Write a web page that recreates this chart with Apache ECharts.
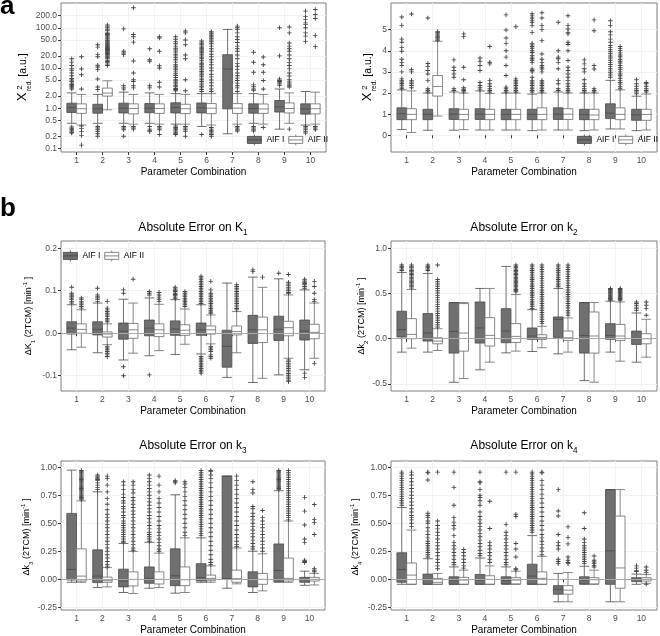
<!DOCTYPE html>
<html><head><meta charset="utf-8">
<script src="https://cdn.jsdelivr.net/npm/echarts@6/dist/echarts.min.js"></script>
<style>html,body{margin:0;padding:0;background:#fff}#c{width:660px;height:636px}</style>
</head><body><div id="c"></div>
<script>
const categories = [1,2,3,4,5,6,7,8,9,10];
const seriesNames = ['AIF I', 'AIF II'];

// tick labels
const chiLogTicks = [0.1,0.2,0.5,1,2,5,10,20,50,100,200];
const chiLinTicks = [0,1,2,3,4,5];
const k1Ticks = [-0.1,0,0.1,0.2];
const k2Ticks = [-0.5,0,0.5,1];
const k34Ticks = [-0.25,0,0.25,0.5,0.75,1];

// ---- a (left): reduced chi-square, log scale  [low whisker, Q1, median, Q3, high whisker]
const chiLogBoxI = [[0.42,0.78,1.03,1.33,2.4],[0.42,0.75,0.97,1.25,2.2],[0.42,0.76,1.0,1.33,2.5],[0.42,0.77,1.0,1.3,2.4],[0.4,0.76,1.03,1.36,2.3],[0.35,0.76,1.02,1.35,2.3],[0.23,0.96,9.4,21.5,91],[0.42,0.75,0.98,1.28,2.3],[0.3,0.8,1.08,1.55,3.0],[0.38,0.71,0.95,1.28,2.6]];
const chiLogBoxII = [[0.38,0.74,0.97,1.28,2.2],[0.91,2.0,2.37,3.16,4.8],[0.4,0.72,0.98,1.28,2.2],[0.4,0.74,0.98,1.28,2.2],[0.4,0.73,0.97,1.25,2.2],[0.38,0.73,1.0,1.3,2.3],[0.4,0.74,1.0,1.3,2.3],[0.4,0.74,0.96,1.27,2.2],[0.42,0.76,0.98,1.35,2.4],[0.4,0.72,0.97,1.28,2.5]];
const chiLogOutI = [
 [17,14,11.5,9.6,8.6,7.5,6.4,5.5,5.0,4.6,4.2,3.9,3.6,3.4,3.2,3.0,0.34,0.31,0.29,0.27,0.25,0.24],
 [38,33,21.5,19,11.7,10.6,9.1,5.3,3.35,2.9,0.35,0.32,0.29,0.26,0.23,0.2],
 [94,26,23.7,21.5,3.6,3.2,2.98,0.35,0.32,0.29,0.2],
 [30,16,14.7,3.6,3.2,0.35,0.3,0.28,0.26],
 [60,52,45,40,35,31,28,25,22,20,18,16,14,12,11,10,9,8,7.2,6.5,5.8,5.2,4.8,4.4,4.0,3.7,3.4,3.1,2.9,2.7,0.36,0.33,0.31,0.29,0.27,0.25,0.23,0.22],
 [47,44,41,38,35,32,30,28,26,24,22,20,18.5,17,15.5,14,13,12,11,10,9,8.2,7.5,6.8,6.2,5.6,5.1,4.6,4.2,3.8,3.5,3.2,2.9,2.6,0.22],
 [],
 [24.6,13.9,7.8,3.8,3.4,3.0,2.8,0.35,0.32,0.29,0.27],
 [100,20,5.3,4.9,4.6,4.3,4.0,3.7],
 [260,190,160,133,120,100,75,62,46,0.35,0.32,0.29,0.26,0.24]];
const chiLogOutII = [
 [19,9.4,6.8,3.0,0.36,0.31,0.26,0.21,0.12],
 [118,110,100,92,85,78,72,68,64,60,56,53,50,48,46,44,42,40,38,36,35,34,33,32,31,30,29,28,27,26,25,24,23,22,21,20,19,18,17,15.5,14.5,13.5,12.5,11.5],
 [316,68,60,44,15,7.5,5.1,4.6,3.6,3.2,0.35,0.32,0.3],
 [60,56,26,11.4,10,4.4,3.35,0.35,0.32,0.29,0.22],
 [83,75,50,38,21,17,5.1,2.7,0.35,0.32,0.29,0.26,0.2],
 [80,75,70,65,60,55,50,45,40,35,30,26,22,19,16,14,12,10,8.5,7,6,5,4.3,3.6,3.0,2.6,0.33,0.3,0.28,0.26,0.24,0.22,0.2],
 [110,100,90,75,60,51,43,35,30,26,21,17,13,11,9.1,7.5,6.4,5.6,4.9,4.2,3.6,3.2,2.6,0.35,0.32,0.29,0.27],
 [18.8,12,7.8,4.9,3.0,0.33],
 [105,75,42,35,30,26,21,17,13.8,11.5,9.5,7.5,6.3,5.1,4.5,4.0,3.6,3.35,0.3],
 [285,215,170,64,34,0.35,0.32,0.29]];

// ---- a (right): reduced chi-square, linear scale
const chiLinBoxI = [[0.27,0.74,1.02,1.3,2.15],[0.24,0.74,0.99,1.23,2.0],[0.24,0.75,1.0,1.26,2.05],[0.25,0.75,1.0,1.26,2.1],[0.25,0.74,0.99,1.23,2.0],[0.22,0.74,0.99,1.23,1.95],[0.25,0.75,1.0,1.3,2.05],[0.22,0.74,0.99,1.23,2.0],[0.3,0.79,1.05,1.49,2.6],[0.22,0.71,0.97,1.23,1.85]];
const chiLinBoxII = [[0.13,0.74,0.99,1.26,2.1],[0.91,1.855,2.31,2.83,4.45],[0.27,0.74,0.99,1.23,2.0],[0.25,0.74,0.99,1.23,1.98],[0.25,0.74,0.99,1.23,2.0],[0.25,0.74,0.99,1.3,2.0],[0.25,0.75,1.0,1.26,2.0],[0.25,0.74,0.96,1.23,2.0],[0.3,0.74,0.99,1.3,2.15],[0.25,0.71,0.99,1.23,1.95]];
const chiLinOutI = [
 [5.6,5.2,4.55,4.4,4.15,3.98,3.6,3.45,3.3,3.0,2.67,2.6,2.52,2.45,2.37,2.28,2.2],
 [5.55,3.4,3.25,3.07,2.9,2.6,2.2,2.12,2.05],
 [3.57,3.22,3.07,2.9,2.75,2.2,2.12],
 [3.66,3.5,3.3,3.07,2.5,2.36,2.25,2.15],
 [5.7,4.98,4.6,4.35,4.0,3.7,3.3,2.83,2.28,2.2,2.12,2.05],
 [5.75,5.65,5.55,5.45,5.35,5.2,4.87,4.35,4.28,4.2,4.12,4.0,3.92,3.77,3.7,3.62,3.55,3.45,3.14,3.07,3.0,2.75,2.6,2.52,2.44,2.36,2.28,2.2,2.12,2.05],
 [5.35,4.0,3.7,3.62,3.45,3.15,2.6,2.44,2.2,2.12],
 [3.57,3.38,3.15,3.0,2.63,2.44,2.32,2.2,2.12,2.05],
 [5.42,5.2,4.9,4.75,4.55,4.4,4.25,4.15,4.05,3.95,3.86,3.75,3.66,3.55,3.44,3.35,3.26,3.15,3.05,2.96,2.85,2.75],
 [2.63,2.44,2.32,2.2,2.12,2.05,1.97]];
const chiLinOutII = [
 [5.74,3.1,3.0,2.6,2.52,2.44,2.36,2.25],
 [4.9,4.85,4.8,4.75,4.7,4.65,4.6,4.55,4.5],
 [4.8,4.67,3.22,2.63,2.25,2.18,2.12,2.05],
 [4.2,3.46,3.38,2.6,2.44,2.32,2.2,2.12,2.05],
 [5.14,2.67,2.6,2.52,2.44,2.36,2.28,2.2,2.12,2.05],
 [5.8,5.55,5.2,5.0,4.48,3.85,3.6,3.45,3.3,3.22,3.14,3.0,2.6,2.52,2.44,2.36,2.28,2.2,2.12,2.05],
 [5.66,5.2,5.03,4.87,4.8,4.4,4.3,4.0,3.54,3.22,3.07,2.9,2.75,2.6,2.44,2.32,2.2,2.12,2.05],
 [5.46,4.95,3.3,3.14,2.2,2.12,2.05],
 [4.2,4.1,4.02,3.9,3.8,3.72,3.6,3.5,3.42,3.3,3.2,3.12,3.0,2.9,2.82,2.7,2.6,2.5,2.42,2.3,2.2],
 [2.5,2.44,2.32,2.2,2.12,2.05]];

// ---- b: absolute error on K1
const k1BoxI = [[-0.039,-0.002,0.012,0.027,0.067],[-0.046,-0.004,0.009,0.027,0.071],[-0.063,-0.014,0.005,0.024,0.080],[-0.053,-0.006,0.012,0.031,0.083],[-0.050,-0.005,0.010,0.029,0.079],[-0.049,-0.005,0.008,0.024,0.067],[-0.104,-0.080,-0.031,0.007,0.118],[-0.116,-0.024,0.008,0.042,0.132],[-0.098,-0.017,0.009,0.040,0.128],[-0.086,-0.016,0.005,0.031,0.102]];
const k1BoxII = [[-0.033,0.000,0.009,0.022,0.055],[-0.027,-0.009,-0.002,0.003,0.022],[-0.047,-0.012,0.008,0.023,0.071],[-0.041,-0.008,0.008,0.022,0.068],[-0.026,-0.005,0.007,0.020,0.057],[-0.025,-0.002,0.008,0.017,0.043],[-0.046,-0.004,0.004,0.017,0.051],[-0.106,-0.022,0.008,0.038,0.108],[-0.059,-0.006,0.013,0.028,0.090],[-0.059,-0.013,0.002,0.021,0.071]];
const k1OutI = [
 [0.108,0.094,0.090,0.087,0.083,0.079,0.075,0.071],
 [0.106,0.090,0.086,0.083,0.079,0.075],
 [0.102,0.094,-0.079,-0.100],
 [0.098,0.094,0.090,-0.098],
 [0.108,0.104,0.101,0.098,0.094,0.091,0.088,0.085,0.082],
 [0.134,0.130,0.126,0.122,0.118,0.114,0.110,0.106,0.102,0.098,0.094,0.090,0.086,0.082,0.078,0.074,0.070,-0.055,-0.059,-0.063,-0.067,-0.071,-0.075,-0.079,-0.083,-0.087,-0.091,-0.094],
 [],
 [0.149,0.145],
 [0.141],
 [0.127,0.123,0.120,0.117,0.114,0.110,0.106,-0.094,-0.104]];
const k1OutII = [
 [0.083,0.079,0.075,0.071,0.067,0.063,0.059],
 [0.075,0.059,0.055,0.051,0.047,0.043,0.039,0.035,0.031,0.027,-0.031,-0.035,-0.039,-0.043,-0.047,-0.051,-0.055],
 [0.127],
 [0.096,0.090,0.085,0.080,0.075],
 [0.098,0.094,0.090,0.086,0.082,0.078,0.075,0.071,0.067,0.063],
 [0.122,0.102,0.094,0.090,0.086,0.082,0.078,0.074,0.070,0.066,0.062,0.058,0.054,0.050,0.047,-0.031,-0.035,-0.039,-0.043,-0.051,-0.055,-0.059],
 [0.114,0.110,0.106,0.102,0.098,0.094,0.090,0.086,0.082,0.078,0.074,0.070,0.066,0.062,0.058,0.055],
 [0.132],
 [0.138,0.120,0.116,0.112,0.108,0.104,0.100,0.096,0.094,-0.063,-0.067,-0.071,-0.075,-0.079,-0.083,-0.087,-0.091,-0.095,-0.099,-0.103,-0.107,-0.111,-0.114],
 [0.122,0.110,0.094,0.079,0.075,-0.071]];

// ---- b: absolute error on k2
const k2BoxI = [[-0.148,0.019,0.100,0.304,0.733],[-0.148,-0.026,0.063,0.278,0.722],[-0.482,-0.159,0.081,0.400,0.400],[-0.344,-0.048,0.119,0.407,0.556],[-0.156,-0.044,0.085,0.333,0.800],[-0.141,-0.007,0.030,0.119,0.322],[-0.167,0.015,0.215,0.241,0.556],[-0.463,-0.159,0.037,0.400,0.400],[-0.148,-0.007,0.037,0.167,0.415],[-0.259,-0.063,0.000,0.085,0.285]];
const k2BoxII = [[-0.104,0.000,0.048,0.222,0.544],[-0.130,-0.056,-0.026,0.011,0.111],[-0.440,-0.137,0.063,0.389,0.400],[-0.259,-0.081,0.037,0.233,0.556],[-0.137,-0.041,0.026,0.167,0.489],[-0.100,-0.007,0.015,0.044,0.137],[-0.148,-0.019,0.011,0.085,0.230],[-0.481,-0.159,0.030,0.296,0.400],[-0.248,-0.019,0.030,0.159,0.407],[-0.204,-0.056,0.000,0.056,0.215]];
const k2OutI = [
 [0.815,0.800,0.785,0.770,0.755],
 [0.815,0.800,0.785,0.770,0.755],
 [],[],[],
 [0.815,0.795,0.775,0.755,0.735,0.715,0.695,0.675,0.655,0.635,0.615,0.595,0.575,0.555,0.535,0.515,0.495,0.475,0.455,0.435,0.415,0.395,0.375,0.355,0.335],
 [0.815,0.795,0.775,0.755,0.735,0.715,0.695,0.675,0.655,0.635,0.615,0.595,0.575],
 [],
 [0.556,0.545,0.535,0.525,0.515,0.505,0.495,0.485,0.475,0.465,0.455,0.445,0.435,0.426],
 [0.407,0.390,0.370,0.350,0.333,0.315]];
const k2OutII = [
 [0.815,0.800,0.785,0.770,0.755,0.740,0.725,0.710,0.695,0.680,0.665,0.650,0.635,0.620,0.605,0.590,0.575,0.560],
 [0.815,0.656,0.630,0.605,0.580,0.555,0.530,0.505,0.480,0.455,0.430,0.405,0.380,0.355,0.330,0.305,0.280,0.255,0.230,0.205,0.180,0.155,0.130],
 [],[],
 [0.815,0.800,0.785,0.770,0.755,0.740,0.725,0.710,0.695,0.680,0.665,0.650,0.635,0.620,0.605,0.590,0.575,0.560,0.545,0.530,0.520],
 [0.815,0.790,0.765,0.740,0.715,0.690,0.665,0.640,0.615,0.590,0.565,0.540,0.515,0.490,0.465,0.440,0.415,0.390,0.365,0.340,0.315,0.290,0.265,0.240,0.215,0.190,0.167],
 [0.815,0.790,0.765,0.740,0.715,0.690,0.665,0.640,0.615,0.590,0.565,0.540,0.515,0.490,0.465,0.440,0.415,0.390,0.365,0.340,0.310,0.285,0.260],
 [],
 [0.556,0.545,0.535,0.525,0.515,0.505,0.495,0.485,0.475,0.465,0.455,0.445,0.435,0.426],
 [0.407,0.370,0.333,0.260]];

// ---- b: absolute error on k3
const k3BoxI = [[-0.026,-0.006,0.088,0.588,0.974],[-0.073,-0.029,0.029,0.263,0.780],[-0.117,-0.067,-0.015,0.091,0.320],[-0.079,-0.035,0.009,0.111,0.330],[-0.123,-0.056,0.032,0.272,0.754],[-0.026,-0.015,0.015,0.140,0.370],[-0.079,0.003,0.005,0.921,0.921],[-0.117,-0.067,0.000,0.067,0.251],[-0.026,-0.020,0.079,0.316,0.790],[-0.053,-0.026,-0.003,0.018,0.073]];
const k3BoxII = [[-0.026,-0.015,0.029,0.272,0.700],[-0.067,-0.026,-0.012,0.020,0.105],[-0.126,-0.058,0.000,0.067,0.249],[-0.073,-0.041,0.000,0.067,0.234],[-0.117,-0.056,-0.003,0.111,0.370],[-0.026,-0.012,0.009,0.038,0.120],[-0.040,-0.026,0.006,0.082,0.280],[-0.102,-0.044,0.000,0.053,0.228],[-0.026,-0.015,0.009,0.190,0.520],[-0.050,-0.015,0.000,0.018,0.053]];
const k3OutI = [
 [],
 [0.93,0.92,0.91,0.90,0.89,0.88,0.86,0.84,0.82,0.80],
 [0.87,0.84,0.80,0.76,0.73,0.70,0.68,0.65,0.63,0.60,0.57,0.55,0.52,0.50,0.48,0.46,0.44,0.42,0.40,0.38,0.36,0.34,0.33],
 [0.93,0.90,0.87,0.84,0.81,0.78,0.75,0.72,0.69,0.66,0.63,0.60,0.57,0.54,0.51,0.48,0.45,0.42,0.40,0.38,0.36,0.34],
 [0.88,0.87,0.86],
 [0.97,0.95,0.93,0.91,0.89,0.87,0.85,0.83,0.81,0.79,0.77,0.75,0.73,0.71,0.69,0.67,0.65,0.63,0.61,0.59,0.57,0.55,0.53,0.51,0.49,0.47,0.45,0.43,0.41,0.39],
 [],
 [0.87,0.80,0.77,0.65,0.63,0.59,0.56,0.53,0.50,0.47,0.44,0.41,0.38,0.35,0.32,0.29,0.27],
 [0.97,0.96,0.95,0.94,0.93,0.92,0.91,0.90,0.89,0.88,0.87,0.86,0.85,0.84,0.83,0.82,0.81,0.80],
 [0.731,0.608,0.485,0.36,0.33,0.17,0.16,0.15]];
const k3OutII = [
 [0.97,0.96,0.95,0.94,0.93,0.92,0.91,0.90,0.89,0.88,0.87,0.86,0.85,0.84,0.83,0.82,0.81,0.80,0.79,0.78,0.77,0.76,0.75,0.74,0.73,0.72,0.71],
 [0.92,0.90,0.84,0.78,0.72,0.67,0.62,0.58,0.55,0.52,0.49,0.46,0.43,0.40,0.37,0.34,0.31,0.28,0.25,0.22,0.19,0.16,0.13,0.11],
 [0.87,0.84,0.80,0.77,0.73,0.70,0.67,0.64,0.61,0.58,0.55,0.52,0.49,0.46,0.43,0.40,0.37,0.34,0.31,0.28,0.26],
 [0.92,0.84,0.78,0.72,0.68,0.64,0.60,0.56,0.52,0.48,0.45,0.42,0.39,0.36,0.33,0.30,0.27,0.25],
 [0.87,0.85,0.82,0.78,0.74,0.70,0.66,0.62,0.58,0.54,0.50,0.46,0.42,0.39],
 [0.97,0.96,0.93,0.90,0.86,0.82,0.78,0.74,0.70,0.66,0.62,0.58,0.54,0.50,0.46,0.42,0.38,0.34,0.30,0.26,0.22,0.18,0.15,0.13],
 [0.92,0.88,0.84,0.80,0.76,0.72,0.68,0.64,0.60,0.56,0.52,0.48,0.44,0.40,0.37,0.34,0.31,0.29],
 [0.614,0.55,0.52,0.49,0.46,0.43,0.40,0.37,0.34,0.31,0.28,0.25],
 [0.97,0.95,0.93,0.91,0.89,0.87,0.85,0.83,0.81,0.79,0.77,0.75,0.73,0.71,0.69,0.67,0.65,0.63,0.61,0.59,0.57,0.55,0.53],
 [0.667,0.535,0.506,0.40,0.096,0.082,0.068]];

// ---- b: absolute error on k4
const k4BoxI = [[-0.044,-0.026,0.088,0.237,0.640],[-0.044,-0.044,0.000,0.047,0.184],[-0.044,-0.044,-0.012,0.023,0.111],[-0.044,-0.044,-0.006,0.044,0.190],[-0.044,-0.041,-0.012,0.023,0.111],[-0.044,-0.044,0.029,0.135,0.390],[-0.200,-0.132,-0.088,-0.056,0.053],[-0.044,-0.041,-0.006,0.023,0.117],[-0.200,-0.044,0.254,0.800,0.800],[-0.044,-0.020,0.000,0.015,0.047]];
const k4BoxII = [[-0.044,-0.044,0.038,0.146,0.440],[-0.044,-0.044,-0.026,0.009,0.053],[-0.044,-0.044,-0.006,0.018,0.082],[-0.044,-0.044,0.000,0.032,0.120],[-0.044,-0.041,-0.006,0.015,0.073],[-0.044,-0.044,0.009,0.067,0.205],[-0.200,-0.132,-0.096,-0.056,0.061],[-0.044,-0.041,-0.003,0.015,0.082],[-0.200,-0.079,0.102,0.564,0.800],[-0.035,-0.015,0.000,0.015,0.044]];
const k4OutI = [
 [0.956,0.94,0.92,0.90,0.88,0.86,0.84,0.82,0.80,0.78,0.76,0.74,0.72,0.70,0.68,0.66],
 [0.956,0.95,0.886,0.59,0.57,0.55,0.52,0.50,0.46,0.43,0.40,0.37,0.34,0.32,0.30,0.28,0.26,0.24,0.22,0.20],
 [0.956,0.82,0.66,0.55,0.51,0.48,0.45,0.39,0.33,0.30,0.27,0.24,0.21,0.18,0.15,0.13],
 [0.956,0.87,0.86,0.80,0.75,0.73,0.70,0.66,0.60,0.56,0.53,0.50,0.47,0.44,0.41,0.38,0.35,0.32,0.29,0.26,0.23,0.21],
 [0.956,0.49,0.42,0.39,0.36,0.33,0.30,0.27,0.24,0.21,0.18,0.15,0.13],
 [0.956,0.94,0.92,0.90,0.88,0.86,0.84,0.82,0.80,0.78,0.76,0.74,0.72,0.70,0.68,0.66,0.64,0.62,0.60,0.58,0.56,0.54,0.52,0.50,0.48,0.46,0.44,0.42],
 [0.80,0.61,0.565,0.40,0.33,0.30,0.27,0.18,0.16,0.14],
 [0.594,0.453,0.36,0.33,0.30,0.28,0.26,0.24,0.22,0.20,0.18,0.16,0.14],
 [],
 [0.12,0.10,0.08,0.07]];
const k4OutII = [
 [0.956,0.93,0.90,0.87,0.84,0.81,0.78,0.75,0.72,0.69,0.66,0.63,0.60,0.57,0.55,0.53,0.50,0.47],
 [0.956,0.52,0.48,0.45,0.42,0.39,0.36,0.33,0.30,0.27,0.24,0.21,0.18,0.15,0.12,0.095],
 [0.266,0.24,0.21,0.18,0.15,0.12,0.10],
 [0.696,0.453,0.33,0.30,0.27,0.24,0.21,0.18,0.15],
 [0.956,0.58,0.56,0.32,0.27,0.20,0.096,0.085],
 [0.956,0.95,0.88,0.84,0.80,0.76,0.72,0.68,0.64,0.60,0.56,0.52,0.48,0.44,0.40,0.37,0.34,0.31,0.28,0.25,0.22],
 [0.468,0.374,0.316,0.20,0.17,0.15,0.14],
 [0.208,0.17,0.155,0.14,0.125,0.11],
 [],
 [0.11,0.082,0.06,-0.044]];

// ------------------------------------------------------------------
const FONT = '"Liberation Sans", Arial, sans-serif';
const PLUS = 'path://M-0.5,-2.5H0.5V-0.5H2.5V0.5H0.5V2.5H-0.5V0.5H-2.5V-0.5H-0.5Z';
const KEY = 'path://M0,2H14V9H0Z M0,5.5H14 M7,0V2 M7,9V11';
const DODGE = 0.1875;   // half of the dodge width (ggplot position_dodge 0.75)
const BOXW = 9.7;
const FILL = ['#707070', '#ffffff'];
const STROKE = ['#4a4a4a', '#6a6a6a'];

const panels = [
  {box:[chiLogBoxI, chiLogBoxII], out:[chiLogOutI, chiLogOutII], grid:{left:61, top:3, width:265, height:149}, yType:'log', yMin:0.081, yMax:415, ticks:chiLogTicks, dec:1, zero:false},
  {box:[chiLinBoxI, chiLinBoxII], out:[chiLinOutI, chiLinOutII], grid:{left:391, top:3, width:266, height:149}, yType:'value', yMin:-0.79, yMax:6.26, ticks:chiLinTicks, dec:0, zero:false},
  {box:[k1BoxI, k1BoxII], out:[k1OutI, k1OutII], grid:{left:61, top:241, width:264, height:150}, yType:'value', yMin:-0.136, yMax:0.217, ticks:k1Ticks, dec:1, zero:true},
  {box:[k2BoxI, k2BoxII], out:[k2OutI, k2OutII], grid:{left:391, top:241, width:266, height:150}, yType:'value', yMin:-0.578, yMax:1.081, ticks:k2Ticks, dec:1, zero:true},
  {box:[k3BoxI, k3BoxII], out:[k3OutI, k3OutII], grid:{left:61, top:461, width:264, height:152}, yType:'value', yMin:-0.273, yMax:1.055, ticks:k34Ticks, dec:2, zero:true},
  {box:[k4BoxI, k4BoxII], out:[k4OutI, k4OutII], grid:{left:391, top:461, width:266, height:152}, yType:'value', yMin:-0.273, yMax:1.055, ticks:k34Ticks, dec:2, zero:true}
];

const grid = [], xAxis = [], yAxis = [], series = [];
panels.forEach((p, i) => {
  grid.push(Object.assign({show:true, borderColor:'#7f7f7f', borderWidth:1, backgroundColor:'#fff'}, p.grid));
  xAxis.push({
    gridIndex:i, type:'value', min:0.4, max:10.6,
    axisLine:{show:false},
    axisTick:{show:true, length:3, customValues:categories, lineStyle:{color:'#333'}},
    axisLabel:{customValues:categories, fontSize:8.5, color:'#4d4d4d', margin:4, fontFamily:FONT},
    splitLine:{show:true, lineStyle:{color:'#f2f2f2', width:1}},
    name:'Parameter Combination', nameLocation:'middle', nameGap:15,
    nameTextStyle:{fontSize:10, color:'#000', fontFamily:FONT}
  });
  xAxis.push({gridIndex:i, type:'value', min:0.4, max:10.6, show:false});
  yAxis.push({
    gridIndex:i, type:p.yType, min:p.yMin, max:p.yMax,
    axisLine:{show:false},
    axisTick:{show:true, length:3, customValues:p.ticks, lineStyle:{color:'#333'}},
    axisLabel:{customValues:p.ticks, fontSize:8.5, color:'#4d4d4d', margin:4, fontFamily:FONT,
      formatter:(v) => Number(v).toFixed(p.dec)},
    splitLine:{show:true, lineStyle:{color:'#f2f2f2', width:1}}
  });
  if (p.zero) {
    series.push({type:'scatter', name:'zero', xAxisIndex:2*i, yAxisIndex:i, data:[], silent:true, z:1,
      markLine:{silent:true, symbol:'none', animation:false, label:{show:false},
        lineStyle:{color:'#a8a8a8', width:1.2, type:'solid'}, data:[{yAxis:0}]}});
  }
  [0,1].forEach(s => {
    const off = s === 0 ? -DODGE : DODGE;
    series.push({
      type:'boxplot', name:seriesNames[s], xAxisIndex:2*i + s, yAxisIndex:i,
      boxWidth:[BOXW, BOXW], silent:true, z:3,
      itemStyle:{color:FILL[s], borderColor:STROKE[s], borderWidth:0.8},
      data:p.box[s].map((b, k) => [categories[k] + off].concat(b))
    });
  });
  [0,1].forEach(s => {
    const off = s === 0 ? -DODGE : DODGE;
    series.push({
      type:'scatter', name:seriesNames[s], xAxisIndex:2*i, yAxisIndex:i,
      symbol:PLUS, symbolSize:4.6, silent:true, z:4,
      itemStyle:{color:'#474747', opacity:1},
      data:p.out[s].flatMap((vals, k) => vals.map(v => [categories[k] + off, v]))
    });
  });
});

function legendAt(left, top) {
  return {
    left:left, top:top, width:120, padding:0, itemWidth:14, itemHeight:11, itemGap:4,
    selectedMode:false, orient:'horizontal',
    textStyle:{fontSize:8.5, color:'#000', fontFamily:FONT},
    data:[
      {name:'AIF I', icon:KEY, itemStyle:{color:FILL[0], borderColor:'#3d3d3d', borderWidth:0.8}},
      {name:'AIF II', icon:KEY, itemStyle:{color:FILL[1], borderColor:'#6a6a6a', borderWidth:0.8}}
    ]
  };
}

const t = (txt, x, y, size, extra) => Object.assign({type:'text', x:x, y:y, silent:true,
  style:{text:txt, fontSize:size, fontFamily:FONT, fill:'#000', align:'center', verticalAlign:'middle'}}, extra || {});
const rot = {rotation:Math.PI/2};
const richSub = (size) => ({
  t:{fontSize:size, fontFamily:FONT, lineHeight:size + 5},
  s:{fontSize:size * 0.68, fontFamily:FONT, lineHeight:size * 0.7, verticalAlign:'bottom'},
  p:{fontSize:size * 0.68, fontFamily:FONT, lineHeight:size * 0.7, verticalAlign:'top'}
});
const titleEl = (main, sub, x, y) => ({type:'text', x:x, y:y, silent:true,
  style:{text:'{t|' + main + '}{s|' + sub + '}', rich:richSub(12), fill:'#000', align:'center', verticalAlign:'middle'}});
const yTitleEl = (sym, sub, x, y) => ({type:'text', x:x, y:y, rotation:Math.PI/2, silent:true,
  style:{text:'{t|Δ' + sym + '}{s|' + sub + '}{t| (2TCM) [min}{p|-1}{t| ]}', rich:richSub(9), fill:'#000', align:'center', verticalAlign:'middle'}});

const chiLabel = (dx) => [
  t('X', 22.5 + dx, 97, 13, rot),
  t('2', 19.5 + dx, 87.5, 8, rot),
  t('red.', 29 + dx, 85.5, 6.5, rot),
  t('[a.u.]', 23 + dx, 65, 10.5, rot)
];

const graphicEls = [
  t('a', 0, 7, 26, {style:{text:'a', fontSize:26, fontWeight:'bold', fontFamily:FONT, fill:'#000', align:'left', verticalAlign:'middle'}}),
  t('b', 0, 209, 26, {style:{text:'b', fontSize:26, fontWeight:'bold', fontFamily:FONT, fill:'#000', align:'left', verticalAlign:'middle'}}),
  ...chiLabel(0), ...chiLabel(345),
  titleEl('Absolute Error on K', '1', 193, 228),
  titleEl('Absolute Error on k', '2', 524, 228),
  titleEl('Absolute Error on k', '3', 193, 446),
  titleEl('Absolute Error on k', '4', 524, 446),
  yTitleEl('K', '1', 29, 316),
  yTitleEl('k', '2', 362, 316),
  yTitleEl('k', '3', 27, 537),
  yTitleEl('k', '4', 356, 537)
];

const chart = echarts.init(document.getElementById('c'), null, {renderer:'canvas'});
chart.setOption({
  animation:false,
  backgroundColor:'#fff',
  textStyle:{fontFamily:FONT},
  grid:grid, xAxis:xAxis, yAxis:yAxis,
  legend:[legendAt(247, 134), legendAt(577, 134), legendAt(63, 250)],
  graphic:{elements:graphicEls},
  series:series
});
</script></body></html>
